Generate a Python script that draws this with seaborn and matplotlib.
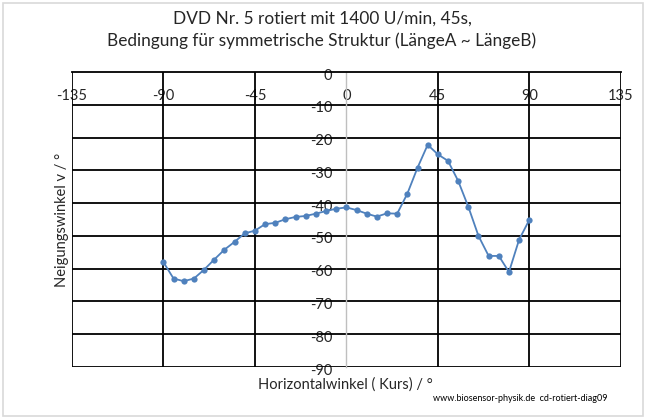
import numpy as np
import pandas as pd
import matplotlib
matplotlib.use('Agg')
import matplotlib.pyplot as plt
import matplotlib.transforms as mtransforms
import seaborn as sns

# Messwerte: Horizontalwinkel (Kurs) und Neigungswinkel
kurs = [-90, -85, -80, -75, -70, -65, -60, -55, -50, -45, -40, -35, -30, -25, -20, -15, -10, -5,
        0, 5, 10, 15, 20, 25, 30, 35, 40, 45, 50, 55, 60, 65, 70, 75, 80, 85, 90]
neigung = [-58.0, -63.0, -63.8, -63.0, -60.3, -57.2, -54.2, -51.8, -49.2, -48.4, -46.4, -46.0,
           -44.9, -44.2, -43.9, -43.2, -42.4, -41.7, -41.3, -42.1, -43.2, -44.1, -43.1, -43.2,
           -37.1, -29.2, -22.2, -25.1, -27.1, -33.2, -41.1, -50.0, -56.1, -56.1, -61.0, -51.1, -45.1]

x_ticks = [-135, -90, -45, 0, 45, 90, 135]
y_ticks = [0, -10, -20, -30, -40, -50, -60, -70, -80, -90]

df = pd.DataFrame({'kurs': kurs, 'neigung': neigung})

sns.set_style('white')
plt.rcParams['font.family'] = ['Lato', 'DejaVu Sans']

fig = plt.figure(figsize=(6.48, 4.19), dpi=100)
ax = fig.add_axes([0.111, 0.124, 0.847, 0.704])

# Gitterlinien
for xv in x_ticks:
    if xv != 0:
        ax.axvline(xv, color='black', lw=1.3, zorder=1)
for yv in y_ticks:
    if yv != 0:
        ax.axhline(yv, color='black', lw=1.3, zorder=1)

sns.lineplot(data=df, x='kurs', y='neigung', ax=ax, color='#4F81BD', lw=1.3,
             marker='o', markersize=4.5, markeredgewidth=0, zorder=3)

ax.set_xlim(-135, 135)
ax.set_ylim(-90, 0)
ax.set_xticks(x_ticks)
ax.set_yticks(y_ticks)
ax.set_xticklabels([str(v) for v in x_ticks])
ax.set_yticklabels([str(v) for v in y_ticks])

ax.spines['left'].set_position(('data', 0))
ax.spines['left'].set_color('#BFBFBF')
ax.spines['left'].set_linewidth(1.0)
ax.spines['bottom'].set_position(('data', 0))
ax.spines['bottom'].set_color('black')
ax.spines['bottom'].set_linewidth(1.3)
ax.spines['top'].set_visible(False)
ax.spines['right'].set_visible(False)
ax.tick_params(axis='x', length=0, pad=12, labelsize=10.5, colors='#262626')
ax.tick_params(axis='y', length=0, pad=10, labelsize=10.5, colors='#262626')
# etwas nach unten, damit das Minuszeichen nicht ganz in der Gitterlinie verschwindet
shift = mtransforms.ScaledTranslation(0, -2.5 / 72, fig.dpi_scale_trans)
for lab in ax.get_yticklabels():
    lab.set_verticalalignment('center')
    lab.set_transform(lab.get_transform() + shift)

ax.set_xlabel('')
ax.set_ylabel('')
fig.text(0.533, 0.083, 'Horizontalwinkel ( Kurs) / °', ha='center', va='center', fontsize=10.5, color='#262626')
fig.text(0.096, 0.475, 'Neigungswinkel v / °', ha='center', va='center', rotation=90, fontsize=10.5, color='#262626')

fig.text(0.497, 0.955, 'DVD Nr. 5 rotiert mit 1400 U/min, 45s,', ha='center', va='center', fontsize=12.4, color='#262626')
fig.text(0.497, 0.902, 'Bedingung für symmetrische Struktur (LängeA ~ LängeB)', ha='center', va='center', fontsize=12.4, color='#262626')

fig.text(0.803, 0.050, 'www.biosensor-physik.de  cd-rotiert-diag09', ha='center', va='center', fontsize=6.5, color='black')

# Rahmen um das Diagramm
fig.patches.append(plt.Rectangle((0.004, 0.006), 0.988, 0.988, transform=fig.transFigure,
                                 fill=False, edgecolor='#D9D9D9', lw=1.2))

fig.savefig('out.png', dpi=100)
